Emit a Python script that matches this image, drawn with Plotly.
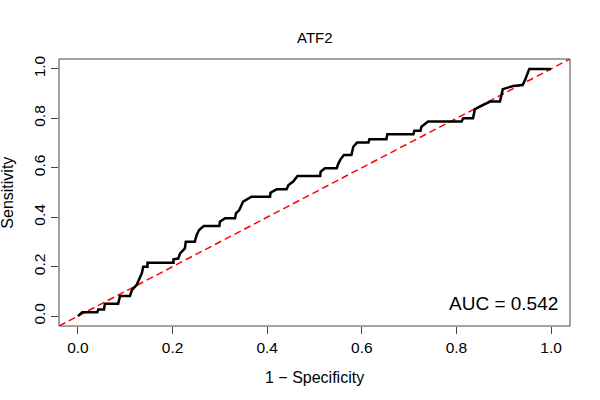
import plotly.graph_objects as go

# ROC curve vertices (1 - specificity, sensitivity)
fpr = [0.0, 0.009, 0.041, 0.043, 0.055, 0.057, 0.085, 0.089, 0.110, 0.114,
       0.124, 0.128, 0.135, 0.138, 0.147, 0.147, 0.202, 0.202, 0.212, 0.216,
       0.226, 0.228, 0.247, 0.251, 0.256, 0.266, 0.299, 0.300, 0.311, 0.332,
       0.334, 0.341, 0.349, 0.367, 0.406, 0.407, 0.420, 0.441, 0.445, 0.455,
       0.464, 0.512, 0.513, 0.522, 0.547, 0.550, 0.555, 0.562, 0.578, 0.582,
       0.590, 0.614, 0.616, 0.652, 0.654, 0.709, 0.711, 0.724, 0.726, 0.740,
       0.811, 0.814, 0.835, 0.839, 0.853, 0.871, 0.892, 0.898, 0.920, 0.940,
       0.945, 0.954, 1.0]
tpr = [0.0, 0.016, 0.016, 0.027, 0.027, 0.050, 0.050, 0.081, 0.081, 0.105,
       0.126, 0.146, 0.173, 0.200, 0.200, 0.216, 0.216, 0.230, 0.233, 0.254,
       0.274, 0.301, 0.301, 0.328, 0.348, 0.364, 0.364, 0.382, 0.396, 0.396,
       0.416, 0.429, 0.463, 0.483, 0.483, 0.499, 0.513, 0.513, 0.530, 0.544,
       0.567, 0.567, 0.584, 0.598, 0.598, 0.615, 0.634, 0.652, 0.652, 0.685,
       0.702, 0.702, 0.715, 0.715, 0.736, 0.736, 0.750, 0.750, 0.766, 0.787,
       0.787, 0.800, 0.800, 0.837, 0.850, 0.868, 0.868, 0.918, 0.931, 0.935,
       0.955, 1.0, 1.0]

diag_x = [-0.04, 1.04]
diag_y = [-0.04, 1.04]

tick_vals = [0.0, 0.2, 0.4, 0.6, 0.8, 1.0]
tick_text = ["0.0", "0.2", "0.4", "0.6", "0.8", "1.0"]

title_text = "ATF2"
auc_text = "AUC = 0.542"
xlab = "1 \u2212 Specificity"
ylab = "Sensitivity"

FONT = "Liberation Sans, Arial, Helvetica, sans-serif"

fig = go.Figure()
fig.add_trace(go.Scatter(x=diag_x, y=diag_y, mode="lines",
                         line=dict(color="#ff0000", width=1.5, dash="7px,4px"),
                         hoverinfo="skip", showlegend=False))
fig.add_trace(go.Scatter(x=fpr, y=tpr, mode="lines",
                         line=dict(color="#000000", width=2.5),
                         showlegend=False))

axis_common = dict(range=[-0.04, 1.04], tickvals=tick_vals, ticktext=tick_text,
                   ticks="outside", ticklen=7, tickwidth=1, tickcolor="#444444",
                   showgrid=False, zeroline=False, showline=False,
                   tickfont=dict(family=FONT, size=15.5, color="#000000"))

fig.update_xaxes(**axis_common)
fig.update_yaxes(**axis_common, tickangle=-90)

fig.add_shape(type="rect", xref="paper", yref="paper", x0=0, y0=0, x1=1, y1=1,
              line=dict(color="#444444", width=1))

fig.add_annotation(text=title_text, xref="paper", yref="paper", x=0.5, y=1.082,
                   xanchor="center", yanchor="middle", showarrow=False,
                   font=dict(family=FONT, size=15, color="#000000"))
fig.add_annotation(text=xlab, xref="paper", yref="paper", x=0.5, y=-0.192,
                   xanchor="center", yanchor="middle", showarrow=False,
                   font=dict(family=FONT, size=16, color="#000000"))
fig.add_annotation(text=ylab, xref="paper", yref="paper", x=-0.0998, y=0.4994,
                   xanchor="center", yanchor="middle", showarrow=False, textangle=-90,
                   font=dict(family=FONT, size=16, color="#000000"))
fig.add_annotation(text=auc_text, x=1.019, y=0.053, xanchor="right", yanchor="middle",
                   showarrow=False, font=dict(family=FONT, size=19, color="#000000"))

fig.update_layout(width=600, height=400, plot_bgcolor="white", paper_bgcolor="white",
                  margin=dict(l=59, r=30, t=59, b=74.3), showlegend=False)

fig.write_html("out.html", config={"displayModeBar": False},
               post_script="document.body.style.margin='0';")
